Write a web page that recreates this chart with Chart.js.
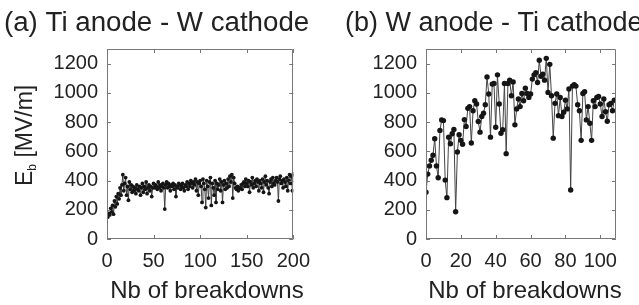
<!DOCTYPE html>
<html>
<head>
<meta charset="utf-8">
<script src="https://cdn.jsdelivr.net/npm/chart.js@4"></script>
<style>
body{margin:0;background:#fff;}
#wrap{position:relative;width:639px;height:305px;}
canvas{position:absolute;top:0;}
#chartA{left:0;}
#chartB{left:320px;}
</style>
</head>
<body>
<div id="wrap">
<canvas id="chartA" width="320" height="305"></canvas>
<canvas id="chartB" width="319" height="305"></canvas>
</div>
<script>
// (a) Ti anode - W cathode, breakdowns 1..200
const fieldA = [
150,175,165,210,185,230,170,260,220,
290,240,310,275,350,300,370,440,330,380,
420,300,360,265,390,340,370,320,360,330,
350,310,370,340,330,360,300,350,380,320,
360,340,390,310,350,370,330,360,290,350,
380,350,370,360,340,390,350,370,330,360,
380,350,205,370,390,350,380,360,330,370,
360,380,340,370,290,360,350,380,370,340,
360,380,350,330,370,360,390,340,380,360,
400,380,350,390,370,410,330,390,300,380,
400,360,250,410,380,340,215,400,360,280,
390,420,230,380,350,300,400,250,380,340,
370,410,330,390,250,370,400,340,380,350,
410,360,430,390,440,280,420,380,350,340,
360,330,350,345,370,340,380,390,360,410,
380,360,400,320,390,370,420,350,380,400,
360,410,390,330,400,380,350,410,320,390,
430,370,400,350,310,390,410,360,420,380,
370,400,420,390,260,410,430,380,400,350,
410,390,360,420,330,400,440,380,430,330,
445
];

// (b) W anode - Ti cathode, breakdowns 0..108
const fieldB = [
320,444,500,539,573,686,500,419,743,815,
810,403,283,697,652,720,749,186,595,713,
675,648,817,770,894,906,657,878,946,924,
804,731,838,860,919,1109,992,697,1060,1064,
765,1123,924,724,747,1064,584,1064,1087,980,
1075,781,890,958,906,996,946,1032,996,969,
992,1094,1123,1137,1071,1223,1114,1127,1087,1236,
1003,1195,980,690,928,992,844,969,838,867,
950,890,1026,335,1046,1055,1046,919,878,675,
996,1007,815,906,792,675,946,906,969,975,
924,838,958,871,806,919,928,878,950
];

const yTicks = [0,200,400,600,800,1000,1200];
const xTicksA = [0,50,100,150,200];
const xTicksB = [0,20,40,60,80,100];

const fontFam = "'Liberation Sans', Arial, sans-serif";

// box round the plot, inward ticks and the titles
const framePlugin = {
id:"frame",
afterDraw(chart, args, opts){
const ctx = chart.ctx;
const a = chart.chartArea;
const sx = chart.scales.x, sy = chart.scales.y;
ctx.save();
ctx.strokeStyle = "#777";
ctx.lineWidth = 1;
ctx.beginPath();
ctx.rect(Math.round(a.left)+0.5, Math.round(a.top)+0.5, Math.round(a.right-a.left)-1, Math.round(a.bottom-a.top)-1);
sx.ticks.forEach(t => {
const px = Math.round(sx.getPixelForValue(t.value))+0.5;
ctx.moveTo(px, a.bottom); ctx.lineTo(px, a.bottom-4);
ctx.moveTo(px, a.top); ctx.lineTo(px, a.top+4);
});
sy.ticks.forEach(t => {
const py = Math.round(sy.getPixelForValue(t.value))+0.5;
ctx.moveTo(a.left, py); ctx.lineTo(a.left+4, py);
ctx.moveTo(a.right, py); ctx.lineTo(a.right-4, py);
});
ctx.stroke();

ctx.fillStyle = "#222";
ctx.textBaseline = "alphabetic";
ctx.font = opts.titleSize + "px " + fontFam;
ctx.textAlign = "left";
ctx.fillText(opts.title, opts.titleX, 31);

ctx.font = "24px " + fontFam;
ctx.textAlign = "center";
ctx.fillText("Nb of breakdowns", opts.xTitleX, 298);

if (opts.yTitle) {
ctx.translate(32, 186);
ctx.rotate(-Math.PI/2);
ctx.textAlign = "left";
ctx.font = "23px " + fontFam;
ctx.fillText("E", 0, 0);
let w = ctx.measureText("E").width;
ctx.font = "12px " + fontFam;
ctx.fillText("b", w, 4);
w += ctx.measureText("b").width;
ctx.font = "23px " + fontFam;
ctx.fillText(" [MV/m]", w, 0);
}
ctx.restore();
}
};

function keepTicks(list){
return function(scale){
scale.ticks = list.map(v => ({value:v}));
};
}

function plainLabel(value){
return String(value);
}

function createPanel(id, values, firstX, xMax, xTicks, padRight, opts, pointR){

const points = values.map((v,i) => ({x:firstX+i, y:v}));

new Chart(document.getElementById(id),{

type:"line",

data:{
datasets:[{
data:points,
borderColor:"#444",
borderWidth:1,
pointRadius:pointR,
pointBackgroundColor:"#151515",
pointBorderWidth:0,
tension:0
}]
},

options:{
responsive:false,
animation:false,
devicePixelRatio:1,
layout:{padding:{left:0,right:padRight,top:49,bottom:0}},
plugins:{legend:{display:false},tooltip:{enabled:false},frame:opts},
scales:{
x:{
type:"linear",
min:0,
max:xMax,
afterBuildTicks:keepTicks(xTicks),
afterFit:function(s){ s.height = 66; },
border:{display:false},
grid:{display:false,drawTicks:false},
ticks:{autoSkip:false,maxRotation:0,padding:10,color:"#222",callback:plainLabel,font:{family:fontFam,size:20}}
},
y:{
min:0,
max:1300,
afterBuildTicks:keepTicks(yTicks),
afterFit:function(s){ s.width = opts.yWidth; },
border:{display:false},
grid:{display:false,drawTicks:false},
ticks:{padding:9,color:"#222",callback:plainLabel,font:{family:fontFam,size:20}}
}
}
},

plugins:[framePlugin]
});

}

document.addEventListener("DOMContentLoaded", function () {

createPanel("chartA", fieldA, 1, 200, xTicksA, 20,
{title:"(a) Ti anode - W cathode", titleX:4, titleSize:27.7, xTitleX:207, yTitle:true, yWidth:107}, 1.9);

createPanel("chartB", fieldB, 0, 109, xTicksB, 23,
{title:"(b) W anode - Ti cathode", titleX:25, titleSize:27, xTitleX:205, yTitle:false, yWidth:106}, 2.7);

});
</script>
</body>
</html>
